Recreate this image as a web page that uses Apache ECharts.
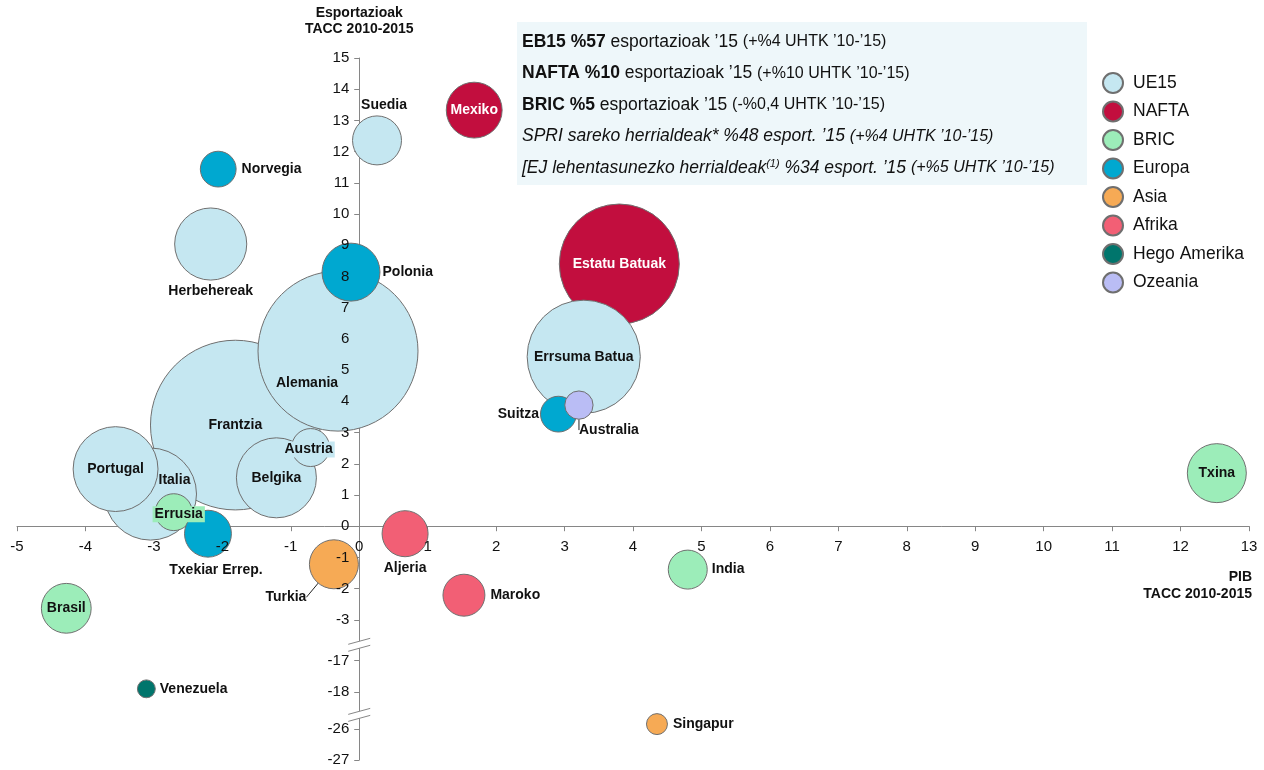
<!DOCTYPE html>
<html>
<head>
<meta charset="utf-8">
<title>Esportazioak eta PIB TACC 2010-2015</title>
<script src="https://cdn.jsdelivr.net/npm/echarts@6/dist/echarts.min.js"></script>
<style>
  html, body { margin: 0; padding: 0; background: #fff; }
  #chart { width: 1264px; height: 770px; }
</style>
</head>
<body>
<div id="chart"></div>
<script>
// herrialdeak eta haien taldea
const herrialdeak = ['Frantzia', 'Alemania', 'Estatu Batuak', 'Errsuma Batua', 'Italia', 'Portugal', 'Belgika',
  'Herbehereak', 'Txina', 'Polonia', 'Mexiko', 'Brasil', 'Suedia', 'Turkia', 'Txekiar Errep.', 'Aljeria',
  'Maroko', 'India', 'Austria', 'Errusia', 'Norvegia', 'Suitza', 'Australia', 'Singapur', 'Venezuela']
const taldea = ['UE15', 'UE15', 'NAFTA', 'UE15', 'UE15', 'UE15', 'UE15',
  'UE15', 'BRIC', 'Europa', 'NAFTA', 'BRIC', 'UE15', 'Asia', 'Europa', 'Afrika',
  'Afrika', 'BRIC', 'UE15', 'BRIC', 'Europa', 'Europa', 'Ozeania', 'Asia', 'Hego Amerika']
// PIB TACC 2010-2015 (x)
const pibTacc = [-1.81, -0.31, 3.80, 3.28, -3.05, -3.56, -1.21,
  -2.17, 12.53, -0.12, 1.68, -4.28, 0.26, -0.37, -2.21, 0.67,
  1.53, 4.80, -0.71, -2.71, -2.06, 2.91, 3.21, 4.35, -3.11]
// Esportazioak TACC 2010-2015 (y)
const esportTacc = [3.24, 5.61, 8.40, 5.43, 1.03, 1.83, 1.55,
  9.04, 1.70, 8.14, 13.33, -2.63, 12.36, -1.22, -0.24, -0.24,
  -2.21, -1.39, 2.52, 0.45, 11.44, 3.59, 3.88, -25.85, -17.9]
// esportazio bolumena 2015 (burbuilaren azalera)
const esportazioak = [3600, 3200, 1800, 1600, 1060, 900, 800,
  650, 435, 420, 390, 310, 300, 300, 275, 265,
  220, 190, 180, 170, 160, 160, 100, 55, 40]

const taldeak = ['UE15', 'NAFTA', 'BRIC', 'Europa', 'Asia', 'Afrika', 'Hego Amerika', 'Ozeania']
const koloreak = {
  UE15: '#C5E7F1', NAFTA: '#C20E3E', BRIC: '#9CEDB9', Europa: '#00A8D0',
  Asia: '#F6AA55', Afrika: '#F25F75', 'Hego Amerika': '#00756C', Ozeania: '#BABDF5'
}

// y ardatzaren tarteak eta etenak
const yTicks = [15, 14, 13, 12, 11, 10, 9, 8, 7, 6, 5, 4, 3, 2, 1, 0, -1, -2, -3, -17, -18, -26, -27]
const ySegments = [[-3, 15], [-18, -17], [-27, -26]]
const yGaps = [1.31, 1.18]

function toDisp(v) {
  let top = ySegments[0][1]
  for (let i = 0; i < ySegments.length; i++) {
    const seg = ySegments[i]
    if (v >= seg[0] - 1e-9 || i === ySegments.length - 1) return top - (seg[1] - v)
    top = top - (seg[1] - seg[0]) - yGaps[i]
  }
}
// eten marken posizioa
const breakMids = []
let segTop = ySegments[0][1]
for (let i = 0; i < yGaps.length; i++) {
  const bottom = segTop - (ySegments[i][1] - ySegments[i][0])
  breakMids.push(bottom - yGaps[i] / 2)
  segTop = bottom - yGaps[i]
}
const yTickDisp = yTicks.map(toDisp)
const yMin = toDisp(-27)
const yMax = 15

// etiketen kokapena
const etiketak = {
  'Suedia': { position: 'top', distance: 3 },
  'Mexiko': { position: 'inside', color: '#fff' },
  'Norvegia': { position: 'right', distance: 5 },
  'Herbehereak': { position: 'bottom', distance: 4 },
  'Polonia': { position: 'right', distance: 2 },
  'Alemania': { position: 'inside' },
  'Frantzia': { position: 'inside' },
  'Austria': { position: 'inside', backgroundColor: koloreak.UE15, padding: [1, 2] },
  'Belgika': { position: 'inside' },
  'Portugal': { position: 'inside' },
  'Italia': { position: 'inside' },
  'Errusia': { position: 'inside', backgroundColor: koloreak.BRIC, padding: [1, 2] },
  'Txekiar Errep.': { position: 'bottom', distance: 5 },
  'Turkia': { position: 'inside' },
  'Aljeria': { position: 'bottom', distance: 4 },
  'Maroko': { position: 'right', distance: 5 },
  'Brasil': { position: 'inside' },
  'Venezuela': { position: 'right', distance: 4 },
  'India': { position: 'right', distance: 4 },
  'Singapur': { position: 'right', distance: 5 },
  'Estatu Batuak': { position: 'inside', color: '#fff' },
  'Errsuma Batua': { position: 'inside' },
  'Suitza': { position: 'left', distance: 1 },
  'Australia': { position: 'inside' },
  'Txina': { position: 'inside' }
}
// etiketen desplazamendua (dx, dy) eta gida-lerroak
const mugimenduak = {
  'Suedia': [7, 0], 'Alemania': [-31, 32], 'Austria': [-2, 2], 'Italia': [24, -14],
  'Errusia': [5, 2], 'Txekiar Errep.': [8, 0], 'Turkia': [-48, 33], 'Australia': [30, 25]
}
const gidak = ['Turkia', 'Australia']

const fontua = '"Liberation Sans", Arial, sans-serif'
const ardatzKolorea = '#868686'

const chart = echarts.init(document.getElementById('chart'))

const series = taldeak.map(t => {
  const idx = herrialdeak.map((_, i) => i)
    .filter(i => taldea[i] === t)
    .sort((a, b) => esportazioak[b] - esportazioak[a])
  const data = idx.map(i => ({
    name: herrialdeak[i],
    value: [pibTacc[i], toDisp(esportTacc[i]), esportazioak[i]],
    label: etiketak[herrialdeak[i]],
    labelLine: { show: gidak.indexOf(herrialdeak[i]) >= 0 }
  }))
  return {
    name: t,
    type: 'scatter',
    z: t === 'NAFTA' ? 1 : 2,
    symbolSize: v => 2 * Math.sqrt(2 * v[2]),
    itemStyle: { color: koloreak[t], borderColor: '#6f6f6f', borderWidth: 1, opacity: 1 },
    label: {
      show: true,
      formatter: p => p.name,
      fontFamily: fontua,
      fontSize: 14,
      fontWeight: 'bold',
      color: '#111'
    },
    labelLine: { lineStyle: { color: '#222', width: 1 } },
    labelLayout: p => {
      const g = mugimenduak[data[p.dataIndex].name]
      return g ? { dx: g[0], dy: g[1] } : {}
    },
    emphasis: { disabled: true },
    data: data
  }
})

const options = {
  animation: false,
  textStyle: { fontFamily: fontua },
  grid: { left: 17, right: 15, top: 58, bottom: 10, containLabel: false, outerBoundsMode: 'none' },
  legend: {
    data: taldeak,
    orient: 'vertical',
    left: 1102,
    top: 72,
    padding: 0,
    icon: 'circle',
    itemWidth: 30,
    itemHeight: 20,
    itemGap: 6.5,
    textStyle: { fontSize: 17.5, lineHeight: 20, color: '#111', fontFamily: fontua }
  },
  xAxis: [
    {
      type: 'value', min: -5, max: 13, interval: 1, z: 0,
      axisLine: { onZero: true, onZeroAxisIndex: 0, lineStyle: { color: ardatzKolorea, width: 1 } },
      axisTick: { show: true, length: 5, lineStyle: { color: ardatzKolorea } },
      axisLabel: { show: false },
      splitLine: { show: false }
    },
    {
      // etiketak burbuilen gainean
      type: 'value', min: -5, max: 13, interval: 1, position: 'bottom', z: 5,
      axisLine: { show: false, onZero: false },
      axisTick: { show: false },
      axisLabel: { fontSize: 15, color: '#111', margin: 13 },
      splitLine: { show: false }
    }
  ],
  yAxis: [
    {
      type: 'value', min: yMin, max: yMax, z: 0,
      axisLine: { onZero: true, onZeroAxisIndex: 0, lineStyle: { color: ardatzKolorea, width: 1 } },
      axisTick: { show: true, length: 5, customValues: yTickDisp, lineStyle: { color: ardatzKolorea } },
      axisLabel: { show: false },
      splitLine: { show: false }
    },
    {
      type: 'value', min: yMin, max: yMax, position: 'left', z: 5,
      name: 'Esportazioak\nTACC 2010-2015',
      nameLocation: 'end',
      nameGap: 21,
      nameTextStyle: { fontSize: 14, fontWeight: 'bold', lineHeight: 16, color: '#111', align: 'center', verticalAlign: 'bottom' },
      axisLine: { show: false, onZero: false },
      axisTick: { show: false },
      axisLabel: {
        fontSize: 15, color: '#111', margin: 10,
        customValues: yTickDisp,
        formatter: v => {
          let best = 0
          yTickDisp.forEach((d, i) => { if (Math.abs(d - v) < Math.abs(yTickDisp[best] - v)) best = i })
          return String(yTicks[best])
        }
      },
      splitLine: { show: false }
    }
  ],
  series: series
}

chart.setOption(options)

// etiketa-ardatzak zeroko lerroetara eraman
const zero = chart.convertToPixel({ seriesIndex: 0 }, [0, 0])
const rect = { left: 17, bottom: 770 - 10 }

// testu-koadroa, x ardatzaren izena eta eten marrak
const kaxaLerroak = [
  '{b|EB15 %57} esportazioak ’15 {s|(+%4 UHTK ’10-’15)}',
  '{b|NAFTA %10} esportazioak ’15 {s|(+%10 UHTK ’10-’15)}',
  '{b|BRIC %5} esportazioak ’15 {s|(-%0,4 UHTK ’10-’15)}',
  '{i|SPRI sareko herrialdeak* %48 esport. ’15} {is|(+%4 UHTK ’10-’15)}',
  '{i|[EJ lehentasunezko herrialdeak}{sup|(1)}{i| %34 esport. ’15} {is|(+%5 UHTK ’10-’15)}'
]
const lerroY = [42, 73.5, 105, 136.5, 168]
const rich = {
  b: { fontSize: 17.5, fontWeight: 'bold', fontFamily: fontua, fill: '#111' },
  s: { fontSize: 16, fontFamily: fontua, fill: '#111' },
  i: { fontSize: 17.5, fontStyle: 'italic', fontFamily: fontua, fill: '#111' },
  is: { fontSize: 16, fontStyle: 'italic', fontFamily: fontua, fill: '#111' },
  sup: { fontSize: 11, fontStyle: 'italic', fontFamily: fontua, fill: '#111', verticalAlign: 'top', padding: [0, 0, 8, 0] }
}

const graphic = [
  { type: 'rect', left: 517, top: 22, shape: { width: 570, height: 163 }, style: { fill: '#EEF7FA' }, z: 10 }
]
kaxaLerroak.forEach((txt, i) => {
  graphic.push({
    type: 'text', x: 522, y: lerroY[i], z: 11,
    style: { text: txt, rich: rich, fontSize: 17.5, fontFamily: fontua, fill: '#111', verticalAlign: 'middle', align: 'left' }
  })
})
graphic.push({
  type: 'text', x: 1252, y: 569, z: 11,
  style: { text: 'PIB\nTACC 2010-2015', fontSize: 14, fontWeight: 'bold', lineHeight: 17, fontFamily: fontua, fill: '#111', align: 'right', verticalAlign: 'top' }
})
breakMids.forEach(m => {
  const p = chart.convertToPixel({ seriesIndex: 0 }, [0, m])
  const cx = p[0], cy = p[1] + 3
  graphic.push({
    type: 'polygon', z: 11,
    shape: { points: [[cx - 11, cy + 1], [cx + 11, cy - 5], [cx + 11, cy + 2], [cx - 11, cy + 8]] },
    style: { fill: '#fff' }
  })
  graphic.push({ type: 'line', z: 12, shape: { x1: cx - 11, y1: cy + 1, x2: cx + 11, y2: cy - 5 }, style: { stroke: ardatzKolorea, lineWidth: 1 } })
  graphic.push({ type: 'line', z: 12, shape: { x1: cx - 11, y1: cy + 8, x2: cx + 11, y2: cy + 2 }, style: { stroke: ardatzKolorea, lineWidth: 1 } })
})

chart.setOption({
  xAxis: [{}, { offset: zero[1] - rect.bottom }],
  yAxis: [{}, { offset: rect.left - zero[0] }],
  graphic: graphic
})

window.addEventListener('resize', () => {
  chart.resize()
})
</script>
</body>
</html>
